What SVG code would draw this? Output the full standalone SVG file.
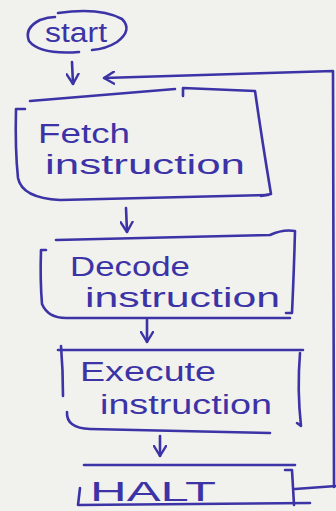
<svg xmlns="http://www.w3.org/2000/svg" width="336" height="511" viewBox="0 0 336 511">
  <defs>
    <style>
      .ink { fill: none; stroke: #3b33a6; stroke-width: 2.6; stroke-linecap: round; stroke-linejoin: round; }
      .lbl { font-family: "Liberation Sans", "DejaVu Sans", sans-serif; fill: #3b33a6; font-size: 27px; }
    </style>
    <marker id="vhead" viewBox="0 0 12 14" refX="11" refY="7" markerWidth="12" markerHeight="14" markerUnits="userSpaceOnUse" orient="auto">
      <path d="M1,1 L11,7 L1,13" fill="none" stroke="#3b33a6" stroke-width="2.4" stroke-linecap="round" stroke-linejoin="round"/>
    </marker>
  </defs>

  <rect width="336" height="511" fill="#f1f1ed"/>

  <!-- start terminal -->
  <g id="start">
    <path class="ink" d="M58,13 Q100,7 122,19 Q133,30 117,42 Q106,49 92,50"/>
    <path class="ink" d="M79,52 Q40,55 29,41 Q24,28 40,20 Q48,17 55,17"/>
    <text class="lbl" x="45" y="42" font-size="28" textLength="62" lengthAdjust="spacingAndGlyphs">start</text>
  </g>

  <!-- fetch instruction -->
  <g id="fetch">
    <path class="ink" d="M30,101 L175,89"/>
    <path class="ink" d="M183,96 L183,88 L255,91 Q262,140 271,194 L261,196"/>
    <path class="ink" d="M25,109 L16,109 Q15,150 18,178 Q22,198 60,200 L268,195"/>
    <text class="lbl" x="38" y="143" font-size="26" textLength="92" lengthAdjust="spacingAndGlyphs">Fetch</text>
    <text class="lbl" x="45" y="174" font-size="26" textLength="200" lengthAdjust="spacingAndGlyphs">instruction</text>
  </g>

  <!-- decode instruction -->
  <g id="decode">
    <path class="ink" d="M56,240 L270,235 Q283,229 295,231 Q294,270 292,313 L286,313"/>
    <path class="ink" d="M46,250 L41,250 Q40,280 42,304 Q48,318 66,318 L290,318"/>
    <text class="lbl" x="70" y="276" textLength="120" lengthAdjust="spacingAndGlyphs">Decode</text>
    <text class="lbl" x="85" y="307" textLength="195" lengthAdjust="spacingAndGlyphs">instruction</text>
  </g>

  <!-- execute instruction -->
  <g id="execute">
    <path class="ink" d="M58,350 L303,350"/>
    <path class="ink" d="M61,346 Q63,370 63,396"/>
    <path class="ink" d="M300,353 Q297,390 301,426 L297,423"/>
    <path class="ink" d="M67,412 Q66,428 90,429 L270,433"/>
    <text class="lbl" x="80" y="381" textLength="136" lengthAdjust="spacingAndGlyphs">Execute</text>
    <text class="lbl" x="100" y="414" textLength="172" lengthAdjust="spacingAndGlyphs">instruction</text>
  </g>

  <!-- halt -->
  <g id="halt">
    <path class="ink" d="M84,465 L295,465"/>
    <path class="ink" d="M80,488 L78,505 L310,503"/>
    <path class="ink" d="M285,470 L292,470 L294,505"/>
    <text class="lbl" x="90" y="501" font-size="34" textLength="126" lengthAdjust="spacingAndGlyphs">HALT</text>
  </g>

  <!-- connectors -->
  <g id="connectors">
    <path class="ink" d="M72,62 L73,84" marker-end="url(#vhead)"/>
    <path class="ink" d="M126,208 L127,232" marker-end="url(#vhead)"/>
    <path class="ink" d="M147,320 L147,342" marker-end="url(#vhead)"/>
    <path class="ink" d="M160,436 L160,456" marker-end="url(#vhead)"/>
    <!-- loop back from HALT to fetch -->
    <path class="ink" d="M295,489 L336,486"/>
    <path class="ink" d="M334,487 L333,71 L104,78" marker-end="url(#vhead)"/>
  </g>
</svg>
